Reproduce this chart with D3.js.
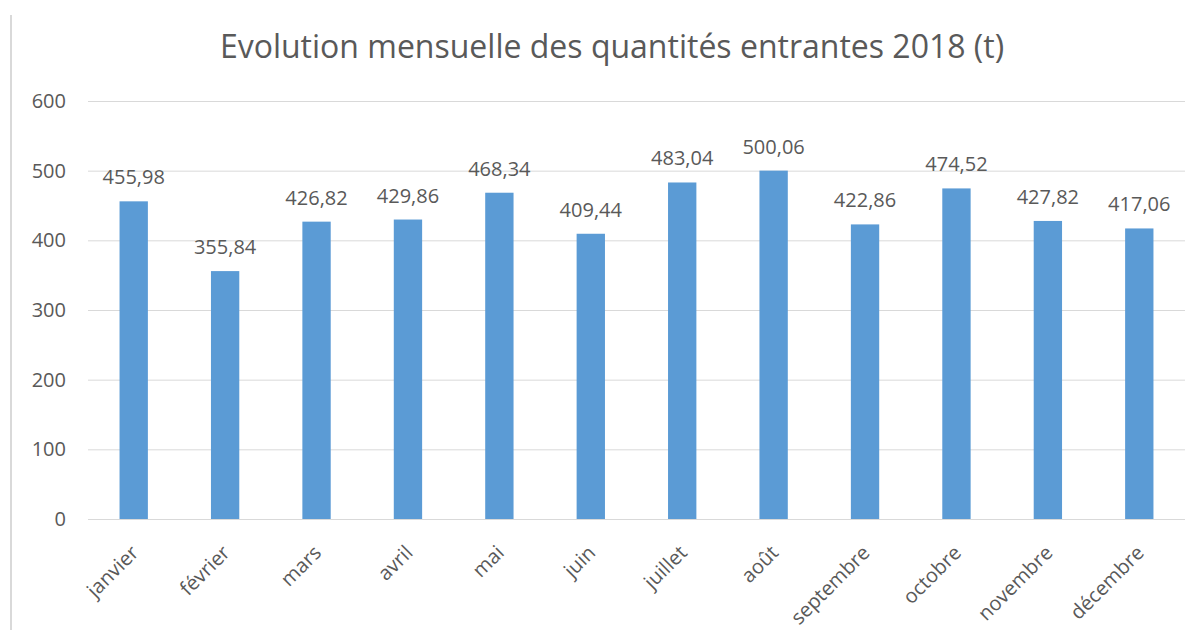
<!DOCTYPE html>
<html>
<head>
<meta charset="utf-8">
<script src="https://cdn.jsdelivr.net/npm/d3@7"></script>
<style>
  body { margin: 0; background: #fff; }
  #box { width: 1200px; height: 630px; }
  text { font-family: "Open Sans", sans-serif; fill: #595959; }
</style>
</head>
<body>
<div id="box"></div>
<script>
const months = ['janvier', 'février', 'mars', 'avril', 'mai', 'juin', 'juillet', 'août', 'septembre', 'octobre', 'novembre', 'décembre'];
const quantities = [455.98, 355.84, 426.82, 429.86, 468.34, 409.44, 483.04, 500.06, 422.86, 474.52, 427.82, 417.06];
const yTicks = [0, 100, 200, 300, 400, 500, 600];
const title = 'Evolution mensuelle des quantités entrantes 2018 (t)';

const width = 1200, height = 630;
const padLeft = 88, padRight = 15, padTop = 101, padBottom = 111;

const svg = d3.select('#box').append('svg')
  .attr('width', width)
  .attr('height', height);

// chart frame edge on the left
svg.append('line')
  .attr('x1', 11).attr('x2', 11)
  .attr('y1', 15).attr('y2', height)
  .style('stroke', '#d9d9d9')
  .style('stroke-width', 2);

const x = d3.scaleBand()
  .domain(months)
  .range([padLeft, width - padRight])
  .paddingInner(0.69)
  .paddingOuter(0.345);

const y = d3.scaleLinear()
  .domain([0, 600])
  .range([height - padBottom, padTop]);

svg.append('text')
  .attr('x', 612)
  .attr('y', 58)
  .attr('text-anchor', 'middle')
  .style('font-size', '32px')
  .text(title);

// gridlines + y labels
const yAxis = svg.append('g')
  .attr('transform', `translate(${padLeft},0)`)
  .call(d3.axisLeft(y).tickValues(yTicks).tickSize(-(width - padLeft - padRight)).tickPadding(22))
yAxis.select('.domain').remove();
yAxis.selectAll('.tick line').style('stroke', '#d9d9d9');
yAxis.selectAll('.tick text')
  .style('font-family', '"Open Sans", sans-serif')
  .style('font-size', '20px')
  .style('fill', '#595959');

svg.selectAll('.bar').data(quantities)
  .join('rect')
  .attr('class', 'bar')
  .attr('x', (d, i) => x(months[i]))
  .attr('width', x.bandwidth())
  .attr('y', d => y(d))
  .attr('height', d => y(0) - y(d))
  .style('fill', '#5b9bd5');

const fmt = d => d.toFixed(2).replace('.', ',');

svg.selectAll('.valueLabel').data(quantities)
  .join('text')
  .attr('class', 'valueLabel')
  .attr('x', (d, i) => x(months[i]) + x.bandwidth() / 2)
  .attr('y', d => y(d) - 17)
  .attr('text-anchor', 'middle')
  .style('font-size', '20px')
  .text(fmt);

svg.selectAll('.monthLabel').data(months)
  .join('text')
  .attr('class', 'monthLabel')
  .attr('transform', d => `translate(${x(d) + x.bandwidth() / 2 + 6},${y(0) + 35}) rotate(-45)`)
  .attr('text-anchor', 'end')
  .style('font-size', '20px')
  .text(d => d);
</script>
</body>
</html>
